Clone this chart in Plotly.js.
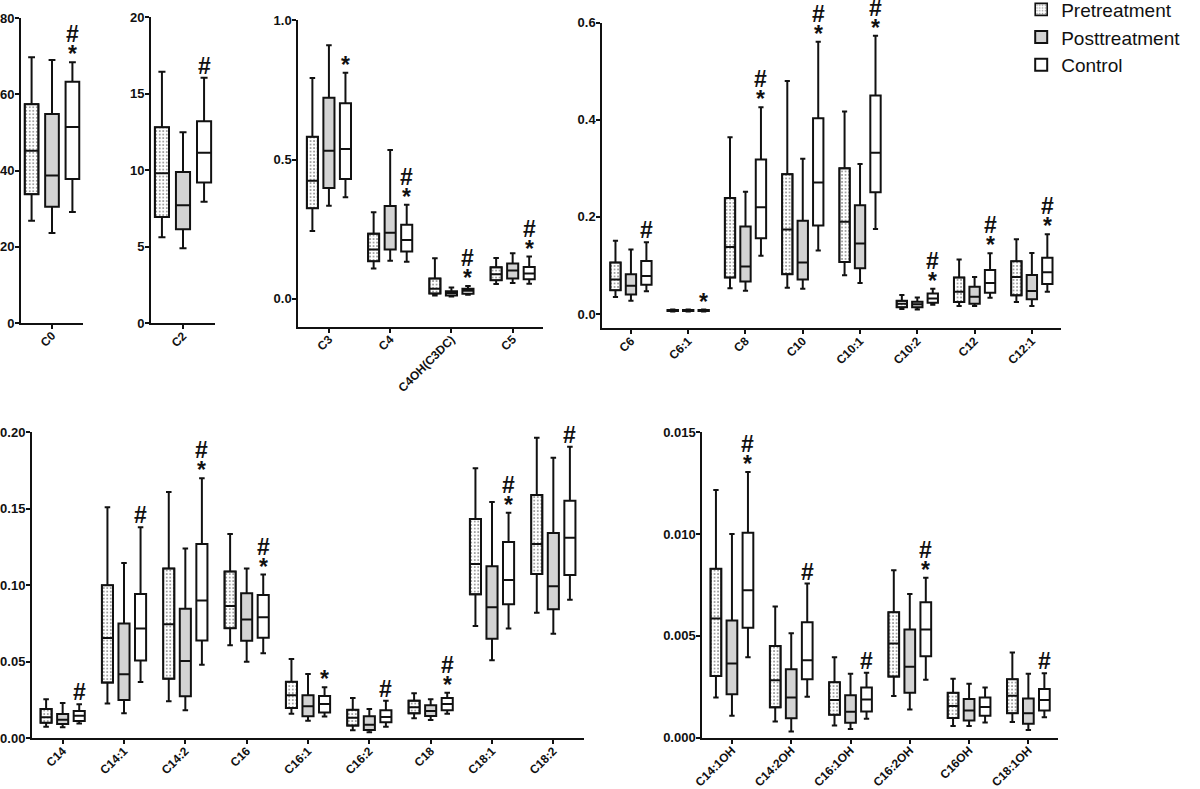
<!DOCTYPE html>
<html>
<head>
<meta charset="utf-8">
<script src="https://cdn.plot.ly/plotly-3.0.1.min.js"></script>
<style>html,body{margin:0;padding:0;background:#fff}#chart{width:1200px;height:789px}</style>
</head>
<body>
<div id="chart"></div>
<script>
// Five-number summaries per category: [lower whisker, Q1, median, Q3, upper whisker]
const catsA = ['C0'];
const preA  = [[26.8, 33.8, 45.2, 57.4, 69.7]];
const postA = [[23.6, 30.5, 38.7, 54.8, 69.0]];
const ctrlA = [[29.1, 37.8, 51.4, 63.3, 68.4]];
const sigA  = ['#*'];

const catsB = ['C2'];
const preB  = [[5.62, 6.95, 9.80, 12.81, 16.44]];
const postB = [[4.90, 6.14, 7.71, 9.89, 12.48]];
const ctrlB = [[7.95, 9.21, 11.15, 13.2, 16.05]];
const sigB  = ['#'];

const catsC = ['C3', 'C4', 'C4OH(C3DC)', 'C5'];
const preC  = [[0.244,0.325,0.424,0.582,0.793],[0.109,0.135,0.177,0.234,0.311],[0.012,0.019,0.036,0.073,0.146],[0.053,0.067,0.088,0.113,0.147]];
const postC = [[0.334,0.398,0.532,0.722,0.910],[0.137,0.177,0.237,0.333,0.534],[0.008,0.012,0.021,0.027,0.041],[0.057,0.073,0.102,0.127,0.164]];
const ctrlC = [[0.365,0.430,0.538,0.702,0.812],[0.133,0.170,0.211,0.266,0.338],[0.015,0.018,0.029,0.036,0.046],[0.054,0.070,0.091,0.114,0.152]];
const sigC  = ['*', '#*', '#*', '#*'];

const catsD = ['C6', 'C6:1', 'C8', 'C10', 'C10:1', 'C10:2', 'C12', 'C12:1'];
const preD  = [[0.035,0.049,0.071,0.106,0.151],[0.005,0.006,0.007,0.008,0.009],[0.053,0.075,0.138,0.239,0.364],[0.054,0.082,0.174,0.288,0.480],[0.080,0.107,0.190,0.300,0.417],[0.010,0.014,0.021,0.027,0.039],[0.0165,0.0247,0.046,0.075,0.112],[0.0247,0.0384,0.076,0.1085,0.154]];
const postD = [[0.027,0.040,0.058,0.082,0.133],[0.005,0.006,0.007,0.008,0.009],[0.048,0.067,0.098,0.180,0.252],[0.052,0.071,0.106,0.192,0.320],[0.064,0.094,0.145,0.224,0.309],[0.009,0.014,0.020,0.025,0.034],[0.0165,0.0213,0.0357,0.056,0.076],[0.0165,0.0302,0.0474,0.0803,0.1256]];
const ctrlD = [[0.047,0.060,0.078,0.109,0.148],[0.005,0.006,0.007,0.008,0.009],[0.120,0.156,0.220,0.318,0.426],[0.131,0.182,0.271,0.403,0.561],[0.175,0.251,0.332,0.450,0.573],[0.019,0.023,0.032,0.042,0.052],[0.0336,0.0439,0.0638,0.0906,0.125],[0.046,0.0618,0.0858,0.116,0.164]];
const sigD  = ['#', '*', '#*', '#*', '#*', '#*', '#*', '#*'];

const catsE = ['C14', 'C14:1', 'C14:2', 'C16', 'C16:1', 'C16:2', 'C18', 'C18:1', 'C18:2'];
const preE  = [[0.0076,0.0102,0.0137,0.0192,0.0255],[0.0227,0.0364,0.0656,0.100,0.151],[0.0242,0.039,0.0745,0.111,0.161],[0.0608,0.0719,0.0865,0.109,0.1336],[0.0161,0.0198,0.0281,0.037,0.0519],[0.0052,0.0083,0.0135,0.0187,0.0264],[0.0131,0.0163,0.0203,0.0246,0.0294],[0.0734,0.0941,0.114,0.1434,0.1765],[0.0821,0.1074,0.127,0.159,0.1965]];
const postE = [[0.0072,0.0094,0.0122,0.0159,0.0231],[0.0163,0.0251,0.0418,0.075,0.1146],[0.0183,0.0275,0.0505,0.0847,0.124],[0.050,0.0638,0.0776,0.0948,0.111],[0.0115,0.0144,0.0209,0.0281,0.042],[0.0039,0.0054,0.0089,0.0144,0.0192],[0.012,0.0146,0.0179,0.0216,0.0255],[0.051,0.0651,0.0856,0.1124,0.1545],[0.0684,0.0843,0.0993,0.1342,0.1834]];
const ctrlE = [[0.0096,0.0113,0.0148,0.0179,0.0222],[0.0368,0.0508,0.0717,0.0943,0.138],[0.048,0.064,0.090,0.127,0.170],[0.0556,0.0658,0.0791,0.0937,0.107],[0.0142,0.0168,0.0224,0.0277,0.0333],[0.0076,0.0105,0.0139,0.0183,0.0246],[0.0161,0.0183,0.0224,0.0264,0.0298],[0.0717,0.0876,0.1035,0.1283,0.1475],[0.0906,0.1068,0.131,0.1553,0.1906]];
const sigE  = ['#', '#', '#*', '#*', '*', '#', '#*', '#*', '#'];

const catsF = ['C14:1OH', 'C14:2OH', 'C16:1OH', 'C16:2OH', 'C16OH', 'C18:1OH'];
const preF  = [[0.00198,0.00303,0.00586,0.0083,0.01217],[0.0008,0.00149,0.00282,0.0045,0.00645],[0.0006,0.00113,0.00185,0.00272,0.00395],[0.00205,0.003,0.00463,0.00616,0.00822],[0.00057,0.00097,0.00156,0.00221,0.0029],[0.00077,0.0012,0.00206,0.00287,0.00418]];
const postF = [[0.00108,0.00213,0.00365,0.00576,0.010],[0.0003,0.00095,0.00198,0.00336,0.00513],[0.00043,0.00074,0.00128,0.00208,0.00314],[0.00139,0.00221,0.00349,0.00532,0.00706],[0.00057,0.00085,0.00133,0.0019,0.00265],[0.00038,0.00069,0.0012,0.00192,0.00314]];
const ctrlF = [[0.00395,0.0054,0.00724,0.01007,0.01305],[0.00201,0.00287,0.0038,0.00567,0.00757],[0.00093,0.00129,0.00188,0.00246,0.00319],[0.00285,0.004,0.00531,0.00665,0.00786],[0.00075,0.00108,0.00151,0.00198,0.00247],[0.001,0.00134,0.00185,0.00239,0.00316]];
const sigF  = ['#*', '#', '#', '#*', '', '#'];

const groupNames = ['Pretreatment', 'Posttreatment', 'Control'];

// ---- layout geometry (pixels on a 1200x789 page) ----
const W = 1200, H = 789;
const panels = [
  {cats: catsA, pre: preA, post: postA, ctrl: ctrlA, sig: sigA, px: [21, 83],  py: [18, 323],   yr: [0, 80],       dtick: 20,   fmt: 'd',   xr: [-0.41, 0.41]},
  {cats: catsB, pre: preB, post: postB, ctrl: ctrlB, sig: sigB, px: [151, 215], py: [17.3, 323.3], yr: [0, 20],     dtick: 5,    fmt: 'd',   xr: [-0.41, 0.41]},
  {cats: catsC, pre: preC, post: postC, ctrl: ctrlC, sig: sigC, px: [298.3, 543.3], py: [20.3, 326.7], yr: [-0.1, 1.0], dtick: 0.5, fmt: '.1f', xr: [-0.5, 3.5]},
  {cats: catsD, pre: preD, post: postD, ctrl: ctrlD, sig: sigD, px: [602.3, 1060.5], py: [22.7, 328.3], yr: [-0.0295, 0.6], dtick: 0.2, fmt: '.1f', xr: [-0.5, 7.5]},
  {cats: catsE, pre: preE, post: postE, ctrl: ctrlE, sig: sigE, px: [32, 584],  py: [432.3, 738.3], yr: [0, 0.2],   dtick: 0.05, fmt: '.2f', xr: [-0.5, 8.5]},
  {cats: catsF, pre: preF, post: postF, ctrl: ctrlF, sig: sigF, px: [702.3, 1058], py: [432.3, 737.7], yr: [0, 0.015], dtick: 0.005, fmt: '.3f', xr: [-0.5, 5.5]}
];

const boxGap = 0.19, boxGroupGap = 0.33;
const groupFrac = 1 - boxGap;
const slot = groupFrac / 3;                 // centre-to-centre spacing of boxes
const boxW = slot * (1 - boxGroupGap);       // box width in category units

const tickFont = {family: 'Liberation Sans, Arial, sans-serif', size: 13, color: '#111', weight: 700};
const xTickFont = {family: 'Liberation Sans, Arial, sans-serif', size: 12, color: '#111', weight: 700};
const traces = [];
const layout = {
  width: W, height: H,
  margin: {l: 0, r: 0, t: 0, b: 0, autoexpand: false},
  paper_bgcolor: '#fff', plot_bgcolor: 'rgba(0,0,0,0)',
  boxmode: 'group', boxgap: boxGap, boxgroupgap: boxGroupGap,
  barmode: 'overlay',
  showlegend: true,
  legend: {x: 0.851, y: 1.012, xanchor: 'left', yanchor: 'top', traceorder: 'normal',
           font: {family: 'Liberation Sans, Arial, sans-serif', size: 19, color: '#111'},
           bgcolor: 'rgba(0,0,0,0)', itemclick: false, tracegroupgap: 0},
  annotations: [],
  hovermode: false
};

const col = (arr, k) => arr.map(r => r[k]);

panels.forEach((p, i) => {
  const n = i + 1;
  const xa = n === 1 ? 'x' : 'x' + n;
  const ya = n === 1 ? 'y' : 'y' + n;
  const xKey = n === 1 ? 'xaxis' : 'xaxis' + n;
  const yKey = n === 1 ? 'yaxis' : 'yaxis' + n;
  layout[xKey] = {
    type: 'category', domain: [p.px[0] / W, p.px[1] / W], anchor: ya, range: p.xr,
    showline: true, linecolor: '#111', linewidth: 2, mirror: false,
    ticks: 'outside', ticklen: 4, tickwidth: 2, tickcolor: '#111', ticklabelstandoff: -5,
    tickangle: -45, tickfont: xTickFont, showgrid: false, zeroline: false, fixedrange: true
  };
  layout[yKey] = {
    domain: [1 - p.py[1] / H, 1 - p.py[0] / H], anchor: xa, range: p.yr,
    tick0: 0, dtick: p.dtick, tickformat: p.fmt,
    showline: true, linecolor: '#111', linewidth: 2,
    ticks: 'outside', ticklen: 4, tickwidth: 2, tickcolor: '#111', ticklabelstandoff: -2,
    tickfont: tickFont, showgrid: false, zeroline: false, fixedrange: true
  };

  // dotted texture behind the Pretreatment boxes
  traces.push({
    type: 'bar', xaxis: xa, yaxis: ya, x: p.cats,
    base: col(p.pre, 1), y: p.pre.map(r => r[3] - r[1]),
    offset: -slot - boxW / 2, width: boxW,
    name: groupNames[0], showlegend: n === 1, legendrank: 1,
    marker: {color: '#fff', line: {color: '#111', width: 1.6},
             pattern: {shape: '.', size: 3.5, solidity: 0.22, fgcolor: '#8a8a8a', bgcolor: '#fff'}},
    hoverinfo: 'skip'
  });

  const sets = [p.pre, p.post, p.ctrl];
  const fills = ['rgba(0,0,0,0)', '#d3d3d3', '#ffffff'];
  const og = ['pre', 'post', 'ctrl'];
  sets.forEach((s, g) => {
    traces.push({
      type: 'box', xaxis: xa, yaxis: ya, x: p.cats,
      lowerfence: col(s, 0), q1: col(s, 1), median: col(s, 2), q3: col(s, 3), upperfence: col(s, 4),
      name: groupNames[g], showlegend: n === 1 && g > 0, legendrank: g + 1,
      alignmentgroup: 'panel' + n, offsetgroup: og[g],
      fillcolor: fills[g], line: {color: '#111', width: 2}, whiskerwidth: 0.5,
      boxpoints: false, hoverinfo: 'skip'
    });
  });

  // significance marks above the Control boxes
  p.sig.forEach((m, k) => {
    if (!m) return;
    const top = p.ctrl[k][4];
    const base = {xref: xa, yref: ya, x: k + slot, y: top, showarrow: false,
                  xanchor: 'center', yanchor: 'middle',
                  font: {family: 'Liberation Sans, Arial, sans-serif', size: 23, color: '#111', weight: 700}};
    if (m.includes('*')) {
      layout.annotations.push(Object.assign({}, base, {text: '*', yshift: 8}));
      if (m.includes('#')) layout.annotations.push(Object.assign({}, base, {text: '#', yshift: 28}));
    } else {
      layout.annotations.push(Object.assign({}, base, {text: '#', yshift: 12}));
    }
  });
});

Plotly.newPlot('chart', traces, layout, {staticPlot: true, displayModeBar: false});
</script>
</body>
</html>
